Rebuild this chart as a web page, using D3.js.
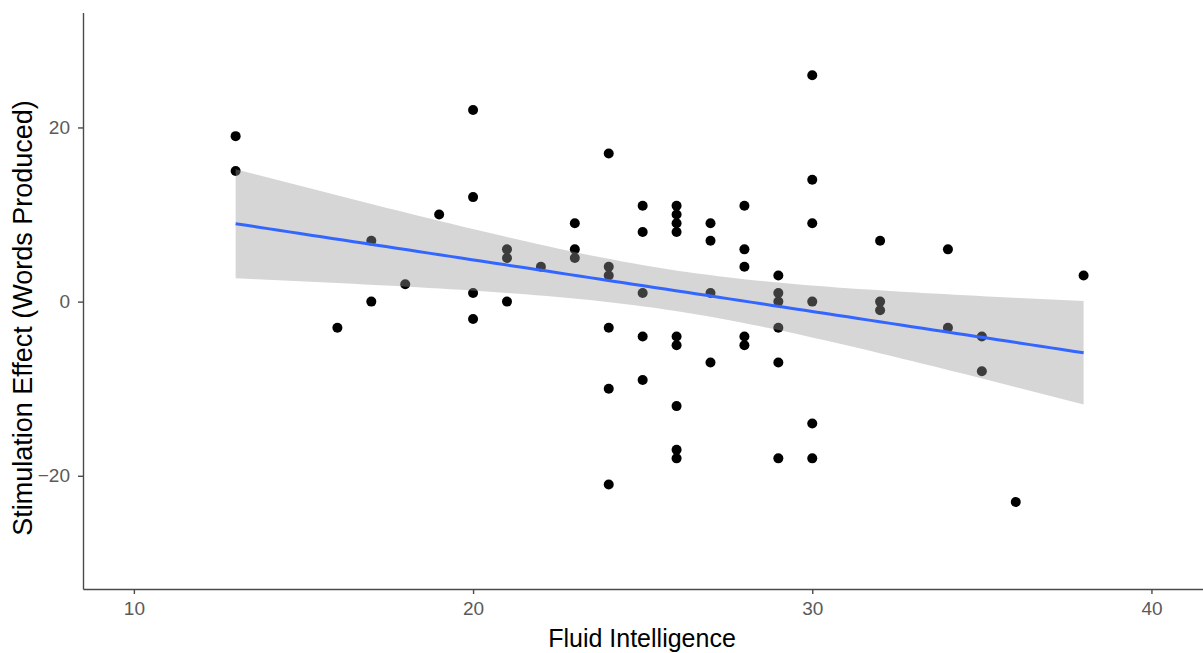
<!DOCTYPE html>
<html>
<head>
<meta charset="utf-8">
<script src="https://cdn.jsdelivr.net/npm/d3@7"></script>
<style>
  body { margin: 0; background: #fff; }
  svg { display: block; font-family: "Liberation Sans", Arial, sans-serif; }
  .axis path, .axis line { stroke: #4a4a4a; stroke-width: 1.4; }
  .axis text { fill: #5a5a5a; font-size: 19px; }
</style>
</head>
<body>
<svg id="viz" width="1203" height="653"></svg>
<script>
// fluid intelligence score (x) and stimulation effect (y), one entry per participant
var fluid = [13, 13, 16, 17, 17, 18, 19, 20, 20, 20, 20, 21, 21, 21, 22, 23, 23, 23,
	24, 24, 24, 24, 24, 24, 25, 25, 25, 25, 25,
	26, 26, 26, 26, 26, 26, 26, 26, 26, 27, 27, 27, 27,
	28, 28, 28, 28, 28, 29, 29, 29, 29, 29, 29,
	30, 30, 30, 30, 30, 30, 32, 32, 32, 34, 34, 35, 35, 36, 38];
var effect = [19, 15, -3, 7, 0, 2, 10, 22, 12, 1, -2, 6, 5, 0, 4, 9, 6, 5,
	17, 4, 3, -3, -10, -21, 11, 8, 1, -4, -9,
	11, 10, 9, 8, -4, -5, -12, -17, -18, 9, 7, 1, -7,
	11, 6, 4, -4, -5, 3, 1, 0, -3, -7, -18,
	26, 14, 9, 0, -14, -18, 7, 0, -1, 6, -3, -4, -8, -23, 3];
var xTicks = [10, 20, 30, 40];
var yTicks = [-20, 0, 20];
var xTitle = 'Fluid Intelligence';
var yTitle = 'Stimulation Effect (Words Produced)';
var tCrit = 1.997; // qt(0.975, n - 2)

var svg = d3.select('#viz');
var x = d3.scaleLinear().domain([8.5, 41.52]).range([83, 1203]);
var y = d3.scaleLinear().domain([-33, 33.2]).range([589, 12.5]);

// least squares fit + 95% band
var n = fluid.length,
	mx = d3.mean(fluid), my = d3.mean(effect),
	sxx = d3.sum(fluid, function(v) { return (v - mx) * (v - mx); }),
	sxy = d3.sum(fluid, function(v, i) { return (v - mx) * (effect[i] - my); }),
	slope = sxy / sxx,
	icpt = my - slope * mx,
	sse = d3.sum(fluid, function(v, i) { var r = effect[i] - (icpt + slope * v); return r * r; }),
	s = Math.sqrt(sse / (n - 2));

var xmin = d3.min(fluid), xmax = d3.max(fluid);
var band = d3.range(80).map(function(k) {
	var xv = xmin + (xmax - xmin) * k / 79;
	var fit = icpt + slope * xv;
	var se = s * Math.sqrt(1 / n + (xv - mx) * (xv - mx) / sxx);
	return {x: xv, fit: fit, lo: fit - tCrit * se, hi: fit + tCrit * se};
});

// points first, ribbon drawn over them like geom_smooth
svg.append('g').selectAll('circle')
	.data(fluid)
	.enter().append('circle')
		.attr('cx', function(d) { return x(d); })
		.attr('cy', function(d, i) { return y(effect[i]); })
		.attr('r', 5)
		.attr('fill', '#000');

svg.append('path')
	.datum(band)
	.attr('fill', '#999999')
	.attr('fill-opacity', 0.4)
	.attr('d', d3.area()
		.x(function(d) { return x(d.x); })
		.y0(function(d) { return y(d.lo); })
		.y1(function(d) { return y(d.hi); }));

svg.append('path')
	.datum(band)
	.attr('fill', 'none')
	.attr('stroke', '#3366FF')
	.attr('stroke-width', 3)
	.attr('d', d3.line()
		.x(function(d) { return x(d.x); })
		.y(function(d) { return y(d.fit); }));

svg.append('g')
	.attr('class', 'axis')
	.attr('transform', 'translate(0,589)')
	.call(d3.axisBottom(x).tickValues(xTicks).tickSize(5).tickSizeOuter(0).tickPadding(8));

svg.append('g')
	.attr('class', 'axis')
	.attr('transform', 'translate(83,0)')
	.call(d3.axisLeft(y).tickValues(yTicks).tickSize(5).tickSizeOuter(0).tickPadding(8));

svg.append('text')
	.attr('x', 642)
	.attr('y', 647)
	.attr('text-anchor', 'middle')
	.attr('font-size', 25)
	.attr('fill', '#000')
	.text(xTitle);

svg.append('text')
	.attr('transform', 'translate(32,318) rotate(-90)')
	.attr('text-anchor', 'middle')
	.attr('font-size', 27)
	.attr('fill', '#000')
	.text(yTitle);
</script>
</body>
</html>
